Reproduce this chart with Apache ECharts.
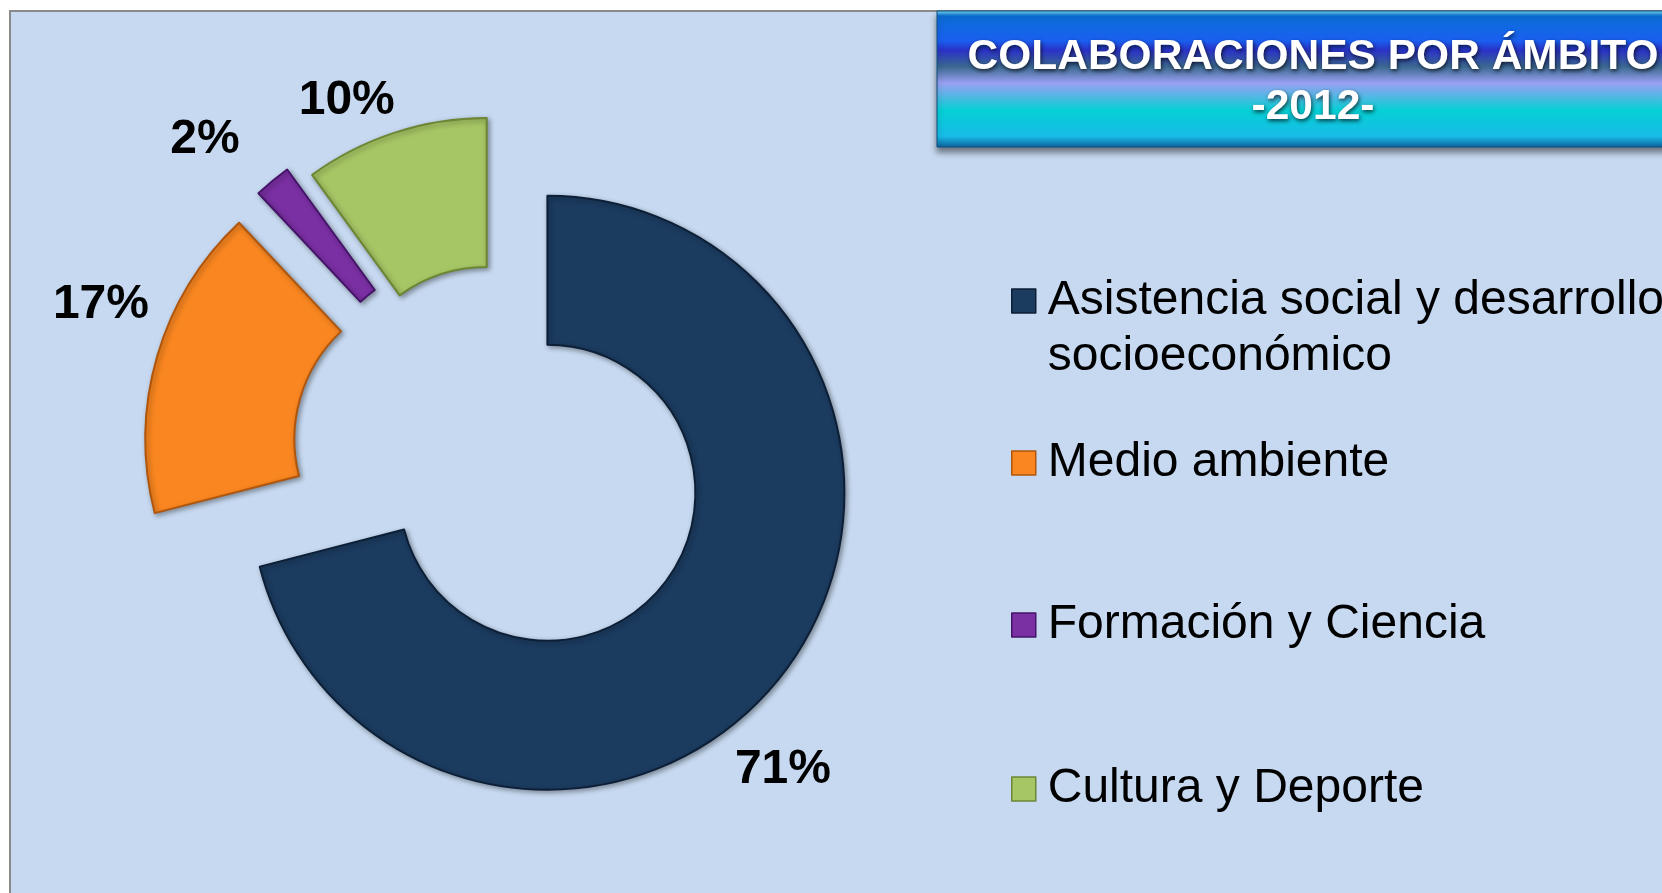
<!DOCTYPE html>
<html>
<head>
    <meta charset="utf-8" />
    <script src="https://cdn.jsdelivr.net/npm/echarts@6/dist/echarts.min.js"></script>
    <title></title>
    <style>
        html, body { margin: 0; padding: 0; background: #ffffff; }
    </style>
</head>
<body>
    <div id="main" style="width: 1662px;height:893px;"></div>
</body>
</html>
<script>
    // chart data
    var categories = ['Asistencia social y desarrollo socioeconómico', 'Medio ambiente', 'Formación y Ciencia', 'Cultura y Deporte'];
    var values = [71, 17, 2, 10];
    var titleText = 'COLABORACIONES POR ÁMBITO\n-2012-';

    // look
    var colors = ['#1b3b5f', '#f98620', '#7a2fa3', '#a6c564'];
    var edgeColors = ['#0c1f36', '#b0560c', '#45146a', '#6c8634'];
    var explode = [60, 43];          // main ring, last slice (pulled out less)
    var labelShift = [[-68, 83], [16, -46], [-15, -26], [11, -13]];
    var legendTops = [217, 435, 597, 761];

    var chart = echarts.init(document.getElementById('main'));

    var last = categories.length - 1;
    var restSum = 0;
    for (var k = 0; k < last; k++) restSum += values[k];

    var hidden = {
        name: '',
        selected: false,
        itemStyle: { color: 'rgba(0,0,0,0)', borderWidth: 0, shadowBlur: 0, shadowColor: 'rgba(0,0,0,0)' },
        label: { show: false }
    };

    function slice(i) {
        return {
            name: categories[i],
            value: values[i],
            selected: true,
            itemStyle: { color: colors[i], borderColor: edgeColors[i] }
        };
    }

    // ring 1: all but the last slice (last kept as an invisible gap)
    var dataA = [];
    for (var i = 0; i < last; i++) dataA.push(slice(i));
    dataA.push(echarts.util.extend({ value: values[last] }, hidden));

    // ring 2: only the last slice, exploded by its own amount
    var dataB = [echarts.util.extend({ value: restSum }, hidden), slice(last)];

    var legends = [];
    for (var j = 0; j < categories.length; j++) {
        legends.push({
            orient: 'vertical',
            left: 1011,
            top: legendTops[j],
            padding: 0,
            itemWidth: 24,
            itemHeight: 24,
            icon: 'rect',
            selectedMode: false,
            data: [categories[j]],
            itemStyle: { borderWidth: 1.5 },
            formatter: function (name) {
                // first entry wraps; a leading blank line keeps the icon on the first text line
                if (name.indexOf(' socioeconómico') > 0) {
                    return ' \n' + name.replace(' socioeconómico', '\nsocioeconómico');
                }
                return name;
            },
            textStyle: {
                fontFamily: 'Liberation Sans, Arial, sans-serif',
                fontSize: 48,
                lineHeight: 56,
                color: '#000000',
                padding: [0, 0, 0, 7]
            }
        });
    }

    function ring(data, offset, catIndex) {
        return {
            name: 'Colaboraciones',
            type: 'pie',
            center: [500, 456],
            radius: [148, 297],
            startAngle: 90,
            clockwise: true,
            selectedMode: 'multiple',
            selectedOffset: offset,
            avoidLabelOverlap: false,
            data: data,
            itemStyle: {
                borderWidth: 2,
                shadowBlur: 5,
                shadowOffsetX: 2,
                shadowOffsetY: 2,
                shadowColor: 'rgba(0,0,0,0.35)'
            },
            label: {
                show: true,
                position: 'outside',
                formatter: '{c}%',
                fontFamily: 'Liberation Sans, Arial, sans-serif',
                fontSize: 48,
                fontWeight: 'bold',
                color: '#000000',
                distanceToLabelLine: 5
            },
            labelLine: { show: false, length: 20, length2: 0 },
            labelLayout: function (p) {
                var s = labelShift[catIndex(p.dataIndex)];
                return { dx: s[0], dy: s[1] };
            },
            emphasis: { disabled: true }
        };
    }

    var option = {
        animation: false,
        graphic: [
            {
                type: 'rect',
                z: -10,
                shape: { x: 10, y: 11, width: 1660, height: 890 },
                style: { fill: '#c6d9f0', stroke: '#8a8a8a', lineWidth: 2 }
            },
            {
                type: 'rect',
                z: 0,
                shape: { x: 937, y: 11, width: 740, height: 136 },
                style: {
                    fill: new echarts.graphic.LinearGradient(0, 0, 0, 1, [
                        { offset: 0, color: '#7fe2f2' },
                        { offset: 0.04, color: '#0b6fd8' },
                        { offset: 0.22, color: '#1a5ff0' },
                        { offset: 0.29, color: '#2a32c8' },
                        { offset: 0.41, color: '#3a6890' },
                        { offset: 0.53, color: '#9aa0f2' },
                        { offset: 0.73, color: '#05d0d5' },
                        { offset: 0.92, color: '#18bbe8' },
                        { offset: 1, color: '#0e5f98' }
                    ]),
                    stroke: '#0e4f80',
                    lineWidth: 1,
                    shadowBlur: 6,
                    shadowOffsetX: 0,
                    shadowOffsetY: 5,
                    shadowColor: 'rgba(0,0,0,0.45)'
                }
            }
        ],
        title: {
            text: titleText,
            left: 1308,
            top: 27,
            textAlign: 'center',
            textStyle: {
                fontFamily: 'Liberation Sans, Arial, sans-serif',
                fontSize: 42.5,
                fontWeight: 'bold',
                lineHeight: 50,
                color: '#ffffff',
                textShadowColor: 'rgba(0,0,0,0.7)',
                textShadowBlur: 4,
                textShadowOffsetX: 1,
                textShadowOffsetY: 2
            }
        },
        legend: legends,
        series: [
            ring(dataA, explode[0], function (idx) { return idx; }),
            ring(dataB, explode[1], function (idx) { return idx === 1 ? last : 0; })
        ]
    };

    chart.setOption(option);
</script>
